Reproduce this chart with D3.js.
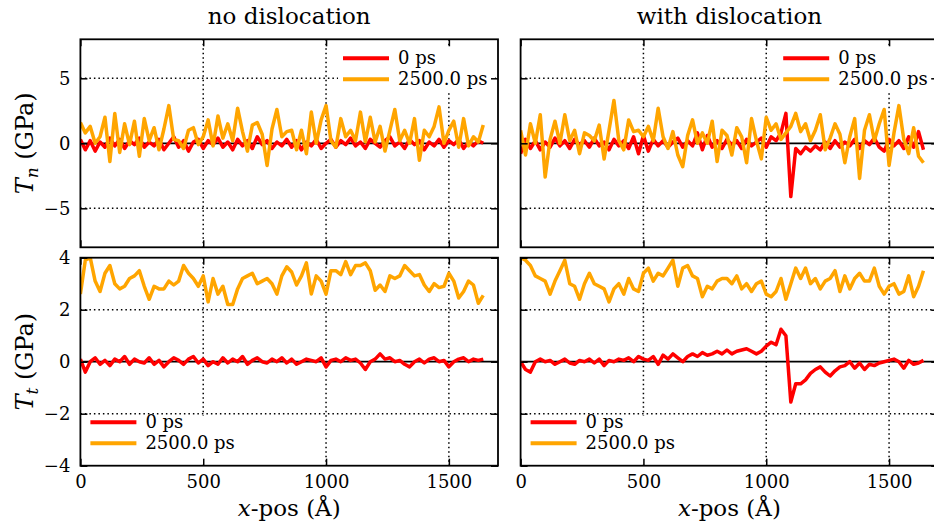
<!DOCTYPE html>
<html>
<head>
<meta charset="utf-8">
<script src="https://d3js.org/d3.v7.min.js"></script>
<style>
  body { margin: 0; background: #fff; }
  svg { display: block; }
  svg text { font-family: "DejaVu Serif", "Liberation Serif", serif; fill: #000; }
</style>
</head>
<body>
<script>
// sample spacing along x-pos (Angstrom), first sample at 0
var step = 20;

var titles = ["no dislocation", "with dislocation"];
var legendLabels = ["0 ps", "2500.0 ps"];
var xTicks = [0, 500, 1000, 1500];
var tnTicks = [-5, 0, 5];
var ttTicks = [-4, -2, 0, 2, 4];

// T_n, no dislocation
var tnNoRed = [0.3,-0.5,0.2,-0.6,0.1,-0.3,0.4,-0.2,0.3,-0.4,
  0.2,-0.1,0.4,-0.3,0.1,-0.2,0.3,-0.5,0.0,0.5,
  -0.3,0.2,-0.6,0.1,0.3,-0.4,0.2,-0.1,0.4,-0.3,
  0.1,-0.5,0.3,-0.2,0.2,-0.4,0.5,-0.1,0.2,-0.4,
  0.1,-0.2,0.3,-0.3,0.2,-0.5,0.1,-0.2,0.3,-0.4,
  0.0,0.3,-0.3,0.2,-0.1,0.4,-0.2,0.1,-0.4,0.3,
  0.0,-0.3,0.2,0.5,-0.2,0.1,-0.4,0.3,-0.1,0.2,
  -0.5,0.1,-0.2,0.3,-0.3,0.2,-0.1,0.3,-0.4,0.1,
  -0.2,0.2,0.0];
var tnNoOrange = [1.6,0.8,1.3,0.0,0.5,2.0,-1.4,2.3,-0.7,1.5,
  -0.1,1.7,-1.0,1.9,0.2,1.2,-0.5,1.1,2.9,0.3,
  0.2,-0.4,1.0,1.2,-0.1,0.5,1.8,-0.2,2.1,0.4,
  1.5,0.2,2.7,0.9,-0.6,1.4,1.6,0.7,-1.7,1.1,
  2.6,0.5,0.9,1.0,-0.5,1.0,-0.8,2.4,0.0,1.8,
  2.9,0.2,-0.3,1.9,0.5,1.0,0.2,2.4,0.1,2.0,
  0.1,1.3,-0.6,1.0,2.6,0.2,1.0,0.0,1.9,-1.3,
  1.0,0.5,1.3,2.8,0.0,1.0,1.7,-0.3,1.9,-0.2,
  0.5,0.1,1.4];

// T_n, with dislocation
var tnDisRed = [-0.8,0.3,-0.4,0.2,-0.5,0.1,-0.3,0.4,-0.2,0.2,
  -0.4,0.3,-0.1,0.2,-0.3,0.4,-0.2,0.1,-0.5,0.3,
  -0.2,0.2,-0.4,0.5,-0.8,0.6,-0.6,0.3,-0.2,0.2,
  -0.3,0.1,0.4,-0.3,0.2,-0.2,0.8,-0.5,0.6,-0.3,
  0.2,-0.4,0.3,-0.1,0.2,-0.4,0.3,-0.2,0.1,0.4,
  -0.3,0.5,0.2,0.8,2.3,-4.1,-0.4,-0.8,-0.3,-0.6,
  -0.2,-0.5,0.1,-0.4,0.2,-0.3,0.1,-0.2,0.3,-0.4,
  0.2,-0.1,0.4,-0.3,-0.6,0.3,-0.2,0.2,-0.4,0.5,
  -0.3,0.9,-0.5];
var tnDisOrange = [1.0,-0.9,1.5,0.0,2.2,-2.6,0.3,1.7,0.0,2.2,
  0.2,1.0,-0.8,0.8,0.6,0.2,1.4,-1.2,1.0,3.3,
  0.2,-0.5,1.8,0.9,1.0,0.5,1.3,0.2,2.7,0.5,
  -0.4,0.9,-0.9,-1.8,0.6,1.8,0.0,0.8,0.0,1.7,
  -1.4,1.0,0.6,-0.9,1.2,0.5,-1.5,1.9,0.2,-1.2,
  2.0,1.0,1.5,0.3,0.8,1.3,2.3,0.9,1.5,0.2,
  1.0,2.2,-0.5,0.4,1.5,0.7,-1.5,0.5,1.9,-2.7,
  1.0,2.2,0.2,1.5,2.6,-1.7,0.8,2.9,0.3,-0.8,
  1.2,-1.0,-1.5];

// T_t, no dislocation
var ttNoRed = [0.1,-0.4,0.0,0.15,-0.1,0.05,-0.15,0.1,0.0,0.2,
  -0.1,0.1,0.0,-0.05,0.15,-0.1,0.05,-0.2,0.0,0.15,
  0.05,-0.1,0.1,0.2,-0.05,0.1,-0.15,0.0,-0.1,0.15,
  -0.05,0.1,0.0,0.2,-0.1,0.05,0.15,0.0,-0.05,0.1,
  0.0,0.15,-0.05,0.1,-0.1,0.0,0.1,0.05,0.0,0.15,
  -0.2,0.05,0.1,0.0,0.15,0.05,0.1,-0.05,-0.3,0.0,
  0.1,0.3,0.1,0.15,0.0,0.05,-0.1,-0.2,0.0,0.1,
  -0.05,0.1,0.15,0.0,0.05,-0.2,0.0,0.1,0.15,0.0,
  0.1,0.05,0.1];
var ttNoOrange = [2.6,3.9,4.0,3.1,2.7,3.4,3.7,3.0,2.8,2.9,
  3.2,3.3,3.5,2.9,2.4,2.9,2.8,2.8,3.1,2.95,
  3.1,3.7,3.4,3.2,2.9,3.3,2.3,3.2,2.6,2.9,
  2.2,2.2,2.8,3.2,3.3,3.4,3.0,3.1,3.2,3.0,
  2.6,3.3,3.65,3.45,2.95,3.3,3.8,2.6,3.3,3.1,
  2.6,3.5,3.5,3.35,3.85,3.35,3.7,3.7,3.8,3.5,
  2.75,2.95,2.7,3.3,3.2,3.3,3.7,3.5,3.3,3.35,
  2.95,2.7,3.0,2.85,2.9,3.4,3.1,2.45,2.7,3.1,
  2.95,2.25,2.55];

// T_t, with dislocation
var ttDisRed = [0.0,-0.3,-0.4,0.0,0.1,0.0,0.05,-0.1,0.0,0.1,
  -0.05,-0.1,0.05,0.0,0.1,-0.05,0.1,-0.15,0.05,0.0,
  0.1,0.05,0.15,0.0,0.2,0.1,0.05,0.2,-0.1,0.25,
  0.1,0.3,0.15,0.0,0.2,0.3,0.2,0.35,0.25,0.3,
  0.4,0.3,0.45,0.3,0.4,0.45,0.5,0.4,0.3,0.4,
  0.6,0.75,0.65,1.25,1.0,-1.55,-0.85,-0.85,-0.7,-0.45,
  -0.3,-0.2,-0.4,-0.55,-0.35,-0.2,-0.15,0.0,-0.25,-0.05,
  -0.3,-0.1,-0.15,-0.05,0.0,0.05,0.1,0.0,-0.25,0.05,
  -0.1,-0.05,0.05];
var ttDisOrange = [4.0,3.9,3.7,3.3,3.2,3.1,2.6,3.1,3.5,3.9,
  3.0,2.9,2.4,3.0,3.4,3.0,2.9,2.8,2.3,2.8,
  3.0,2.6,3.2,2.8,2.7,3.4,3.6,3.1,3.4,3.3,
  3.6,3.9,2.9,3.6,3.7,3.3,3.2,2.5,2.9,2.8,
  3.1,3.2,3.2,3.0,3.3,2.8,3.0,2.7,3.0,3.1,
  2.6,2.5,2.7,3.2,2.4,3.0,3.6,3.2,3.6,3.0,
  3.2,2.8,3.1,3.2,3.5,2.7,3.3,2.8,3.2,3.4,
  3.1,3.1,3.6,2.9,2.6,2.9,3.0,2.6,2.7,3.3,
  2.5,2.9,3.5];

var W = 934, H = 529;
var red = "#ff0000", orange = "#ffa500";
var fmt = d3.format("d");

var svg = d3.select("body").append("svg")
    .attr("width", W)
    .attr("height", H);

var colLeft = [80.4, 520.6];
var panelW = 417.6;
var rows = [
  {top: 39.3, h: 208, domain: [-8, 8], ticks: tnTicks, grid: [-5, 5], sub: "n", legend: "upper",
   data: [[tnNoRed, tnNoOrange], [tnDisRed, tnDisOrange]]},
  {top: 257.7, h: 208, domain: [-4, 4], ticks: ttTicks, grid: [-2, 2], sub: "t", legend: "lower",
   data: [[ttNoRed, ttNoOrange], [ttDisRed, ttDisOrange]]}
];

function styleAxis(g) {
  g.attr("font-family", null).attr("font-size", null);
  g.select(".domain").remove();
  g.selectAll(".tick line").attr("stroke", "#000").attr("stroke-width", 1.5);
  g.selectAll(".tick text").attr("font-size", 18).attr("fill", "#000");
}

rows.forEach(function(row, r) {
  colLeft.forEach(function(x0, c) {
    var x = d3.scaleLinear().domain([0, 1700]).range([x0, x0 + panelW]);
    var y = d3.scaleLinear().domain(row.domain).range([row.top + row.h, row.top]);
    var g = svg.append("g");
    var clipId = "clip" + r + c;

    g.append("clipPath").attr("id", clipId)
      .append("rect")
      .attr("x", x0).attr("y", row.top)
      .attr("width", panelW).attr("height", row.h);

    // dotted grid
    g.selectAll(".vgrid").data(xTicks.slice(1)).enter().append("line")
      .attr("x1", d => x(d)).attr("x2", d => x(d))
      .attr("y1", row.top).attr("y2", row.top + row.h)
      .attr("stroke", "#000").attr("stroke-width", 1.5)
      .attr("stroke-dasharray", "1.5,3");
    g.selectAll(".hgrid").data(row.grid).enter().append("line")
      .attr("x1", x0).attr("x2", x0 + panelW)
      .attr("y1", d => y(d)).attr("y2", d => y(d))
      .attr("stroke", "#000").attr("stroke-width", 1.5)
      .attr("stroke-dasharray", "1.5,3");

    // zero line
    g.append("line")
      .attr("x1", x0).attr("x2", x0 + panelW)
      .attr("y1", y(0)).attr("y2", y(0))
      .attr("stroke", "#000").attr("stroke-width", 1.8);

    var line = d3.line()
      .x((d, i) => x(i * step))
      .y(d => y(d));

    var plot = g.append("g").attr("clip-path", "url(#" + clipId + ")");
    [red, orange].forEach(function(col, k) {
      plot.append("path")
        .datum(row.data[c][k])
        .attr("d", line)
        .attr("fill", "none")
        .attr("stroke", col)
        .attr("stroke-width", 3.5)
        .attr("stroke-linejoin", "round");
    });

    // legend
    var lg = g.append("g");
    var lx, ly;
    if (row.legend === "upper") {
      lg.append("rect").attr("x", x0 + panelW - 160).attr("y", row.top + 7)
        .attr("width", 157).attr("height", 46).attr("fill", "#fff");
      lx = x0 + panelW - 155; ly = row.top + 19;
    } else {
      lg.append("rect").attr("x", x0 + 2).attr("y", row.top + row.h - 50)
        .attr("width", 163).attr("height", 48).attr("fill", "#fff");
      lx = x0 + 10; ly = row.top + row.h - 43.4;
    }
    [red, orange].forEach(function(col, k) {
      lg.append("line")
        .attr("x1", lx).attr("x2", lx + 46)
        .attr("y1", ly + k * 21).attr("y2", ly + k * 21)
        .attr("stroke", col).attr("stroke-width", 4);
      lg.append("text")
        .attr("x", lx + 55).attr("y", ly + k * 21 + 6)
        .attr("font-size", 18)
        .text(legendLabels[k]);
    });

    // ticks inward on all four sides
    var left = g.append("g").attr("transform", "translate(" + x0 + ",0)")
      .call(d3.axisLeft(y).tickValues(row.ticks).tickSizeInner(-7).tickSizeOuter(0)
        .tickPadding(10).tickFormat(c === 0 ? fmt : ""));
    styleAxis(left);
    var right = g.append("g").attr("transform", "translate(" + (x0 + panelW) + ",0)")
      .call(d3.axisRight(y).tickValues(row.ticks).tickSizeInner(-7).tickSizeOuter(0).tickFormat(""));
    styleAxis(right);
    var topAx = g.append("g").attr("transform", "translate(0," + row.top + ")")
      .call(d3.axisTop(x).tickValues(xTicks).tickSizeInner(-7).tickSizeOuter(0).tickFormat(""));
    styleAxis(topAx);
    var bottom = g.append("g").attr("transform", "translate(0," + (row.top + row.h) + ")")
      .call(d3.axisBottom(x).tickValues(xTicks).tickSizeInner(-7).tickSizeOuter(0)
        .tickPadding(10).tickFormat(r === 1 ? fmt : ""));
    styleAxis(bottom);

    // frame
    g.append("rect")
      .attr("x", x0).attr("y", row.top)
      .attr("width", panelW).attr("height", row.h)
      .attr("fill", "none").attr("stroke", "#000").attr("stroke-width", 1.8);

    if (r === 0) {
      svg.append("text")
        .attr("x", x0 + panelW / 2).attr("y", 24)
        .attr("text-anchor", "middle").attr("font-size", 23)
        .text(titles[c]);
    } else {
      var xl = svg.append("text")
        .attr("x", x0 + panelW / 2).attr("y", 516)
        .attr("text-anchor", "middle").attr("font-size", 23);
      xl.append("tspan").attr("font-style", "italic").text("x");
      xl.append("tspan").text("-pos (\u00c5)");
    }

    if (c === 0) {
      var yl = svg.append("text")
        .attr("transform", "translate(33," + (row.top + row.h / 2) + ") rotate(-90)")
        .attr("text-anchor", "middle").attr("font-size", 24);
      yl.append("tspan").attr("font-style", "italic").text("T");
      yl.append("tspan").attr("font-style", "italic").attr("font-size", 17).attr("dy", 5).text(row.sub);
      yl.append("tspan").attr("dy", -5).text(" (GPa)");
    }
  });
});
</script>
</body>
</html>
